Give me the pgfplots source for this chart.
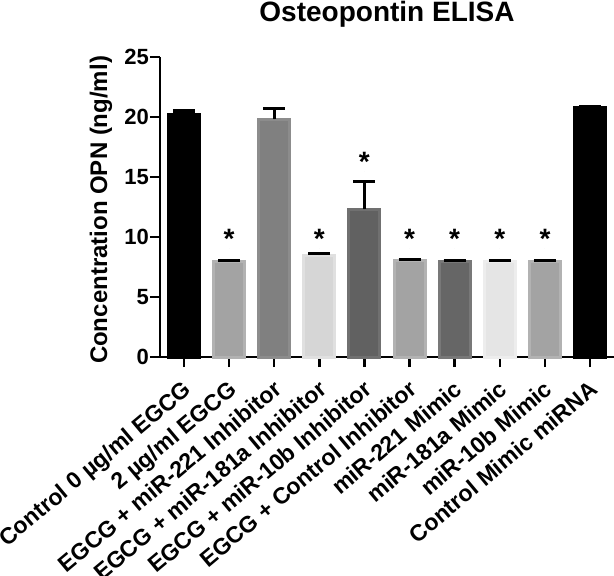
\documentclass[border=0pt]{standalone}
\usepackage{fontspec}
\setmainfont{Liberation Sans}
\usepackage{pgfplots}
\pgfplotsset{compat=1.18}
\definecolor{fA}{gray}{0.64}\definecolor{bA}{gray}{0.70}
\definecolor{fB}{gray}{0.50}\definecolor{bB}{gray}{0.55}
\definecolor{fC}{gray}{0.84}\definecolor{bC}{gray}{0.88}
\definecolor{fD}{gray}{0.38}\definecolor{bD}{gray}{0.44}
\definecolor{fE}{gray}{0.40}\definecolor{bE}{gray}{0.47}
\definecolor{fF}{gray}{0.90}\definecolor{bF}{gray}{0.93}
\pgfplotsset{
  mybar/.style={ybar, bar width=31bp, bar shift=0pt, line width=3bp,
     error bars/y dir=plus, error bars/y explicit,
     error bars/error bar style={line width=3bp, black},
     error bars/error mark options={rotate=90, line width=3bp, mark size=11bp, black}},
}
\begin{document}
\begin{tikzpicture}
\begin{axis}[
  at={(0,0)}, anchor=south west,
  scale only axis, width=454bp, height=300bp,
  xmin=-0.53, xmax=9.53, ymin=0, ymax=25,
  axis x line*=bottom, axis y line*=left,
  axis line style={line width=2.6bp, -},
  tick align=outside, major tick length=10bp,
  tick style={line width=2.6bp, black},
  ytick={0,5,...,25},
  xtick={0,...,9},
  xticklabels={Control 0 µg/ml EGCG, 2 µg/ml EGCG, EGCG + miR-221 Inhibitor, EGCG + miR-181a Inhibitor, EGCG + miR-10b Inhibitor, EGCG + Control Inhibitor, miR-221 Mimic, miR-181a Mimic, miR-10b Mimic, Control Mimic miRNA},
  /pgf/number format/assume math mode=true,
  yticklabel style={font=\fontsize{22bp}{24bp}\selectfont\bfseries, inner sep=1bp},
  xticklabel style={font=\fontsize{23bp}{25bp}\selectfont\bfseries, xshift=-2bp, yshift=-12bp, rotate=40, anchor=north east, inner sep=0pt},
  ylabel={Concentration OPN (ng/ml)},
  ylabel style={font=\fontsize{24bp}{26bp}\selectfont\bfseries, at={(axis description cs:-0.1167,0.49)}, rotate=0, anchor=base},
  title={Osteopontin ELISA},
  title style={font=\fontsize{28bp}{30bp}\selectfont\bfseries, anchor=base, at={(axis description cs:0.5,1)}, yshift=30bp},
  clip=false,
]
\addplot[mybar, fill=black, draw=black] coordinates {(0,20.2) +- (0,0.3)};
\addplot[mybar, fill=fA, draw=bA] coordinates {(1,8.0) +- (0,0.05)};
\addplot[mybar, fill=fB, draw=bB] coordinates {(2,19.8) +- (0,0.9)};
\addplot[mybar, fill=fC, draw=bC] coordinates {(3,8.5) +- (0,0.15)};
\addplot[mybar, fill=fD, draw=bD] coordinates {(4,12.3) +- (0,2.35)};
\addplot[mybar, fill=fA, draw=bA] coordinates {(5,8.05) +- (0,0.05)};
\addplot[mybar, fill=fE, draw=bE] coordinates {(6,8.0) +- (0,0.05)};
\addplot[mybar, fill=fF, draw=bF] coordinates {(7,8.0) +- (0,0.05)};
\addplot[mybar, fill=fA, draw=bA] coordinates {(8,8.0) +- (0,0.05)};
\addplot[mybar, fill=black, draw=black] coordinates {(9,20.8) +- (0,0.1)};
\addplot[only marks, mark=*, mark size=0pt, mark options={draw=none, fill=none},
  nodes near coords={\fontsize{28bp}{28bp}\selectfont\bfseries *},
  every node near coord/.append style={anchor=base, inner sep=0pt, black}]
  coordinates {(1,9.08) (3,9.08) (4,15.5) (5,9.08) (6,9.08) (7,9.08) (8,9.08)};
\end{axis}
\pgfresetboundingbox
\path[use as bounding box] (-160bp,-219bp) rectangle (454bp,357bp);
\end{tikzpicture}
\end{document}
